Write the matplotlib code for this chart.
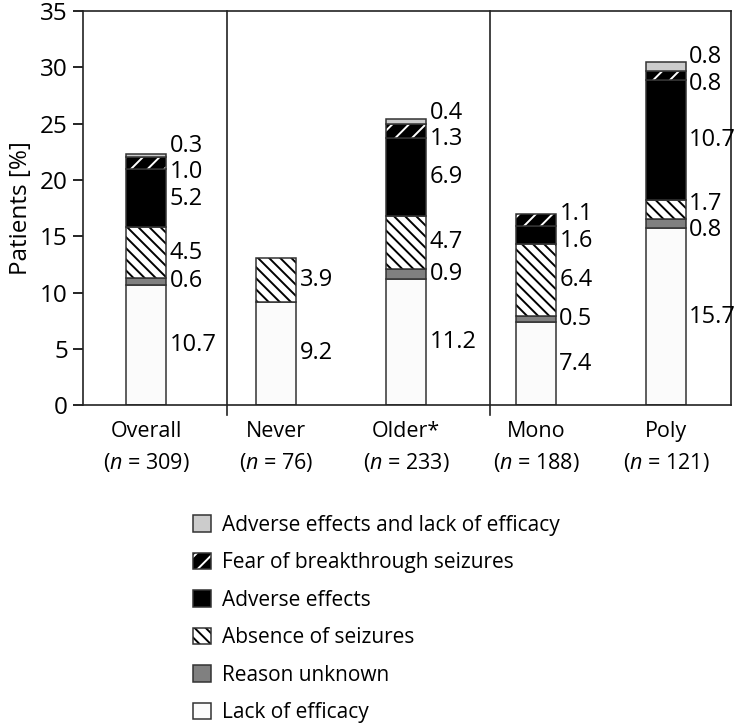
import numpy as np
import matplotlib
matplotlib.use("Agg")
from matplotlib import pyplot as plt
from matplotlib.patches import Patch

plt.rcParams['font.family'] = ['Open Sans', 'DejaVu Sans']
plt.rcParams['mathtext.fontset'] = 'custom'
plt.rcParams['mathtext.rm'] = 'Open Sans'
plt.rcParams['mathtext.it'] = 'Open Sans:italic'
plt.rcParams['hatch.linewidth'] = 1.4

groups = ['Overall', 'Never', 'Older*', 'Mono', 'Poly']
n_vals = [309, 76, 233, 188, 121]

reasons = ['Lack of efficacy', 'Reason unknown', 'Absence of seizures',
           'Adverse effects', 'Fear of breakthrough seizures',
           'Adverse effects and lack of efficacy']

lack_eff = [10.7, 9.2, 11.2, 7.4, 15.7]
unknown = [0.6, 0.0, 0.9, 0.5, 0.8]
absence = [4.5, 3.9, 4.7, 6.4, 1.7]
adverse = [5.2, 0.0, 6.9, 1.6, 10.7]
fear = [1.0, 0.0, 1.3, 1.1, 0.8]
adv_lack = [0.3, 0.0, 0.4, 0.0, 0.8]

series = [lack_eff, unknown, absence, adverse, fear, adv_lack]

# look of each segment: face, hatch colour, hatch
styles = [
    ('#fbfbfb', '#333333', None),
    ('#808080', '#333333', None),
    ('white', 'black', '\\\\\\'),
    ('black', '#333333', None),
    ('black', 'white', '//'),
    ('#cccccc', '#333333', None),
]

x = np.arange(len(groups))
width = 0.31
edge = '#333333'

fig = plt.figure(figsize=(7.36, 7.25), dpi=100)
ax = fig.add_axes([0.113, 0.441, 0.880, 0.544])

data = np.array(series)
bottoms = np.vstack([np.zeros(len(groups)), np.cumsum(data, axis=0)[:-1]])

handles = []
for vals, bot, (face, hc, hatch) in zip(data, bottoms, styles):
    m = vals > 0
    if hatch is not None:
        ax.bar(x[m], vals[m], width, bottom=bot[m], color=face,
               edgecolor=hc, hatch=hatch, linewidth=0)
        ax.bar(x[m], vals[m], width, bottom=bot[m], fill=False,
               edgecolor=edge, linewidth=1.1)
        h = (Patch(facecolor=face, edgecolor=hc, hatch=hatch, linewidth=0),
             Patch(fill=False, edgecolor=edge, linewidth=1.1))
    else:
        ax.bar(x[m], vals[m], width, bottom=bot[m], color=face,
               edgecolor=edge, linewidth=1.1)
        h = Patch(facecolor=face, edgecolor=edge, linewidth=1.1)
    handles.append(h)


def spread(ys, gap):
    ys = list(ys)
    for _ in range(100):
        for i in range(1, len(ys)):
            d = ys[i] - ys[i - 1]
            if d < gap:
                s = (gap - d) / 2
                ys[i - 1] -= s
                ys[i] += s
    return ys


# value labels right of each bar, pushed apart where segments are thin
for j in range(len(groups)):
    vals = data[:, j]
    idx = [i for i in range(len(vals)) if vals[i] > 0]
    centers = [bottoms[i, j] + vals[i] / 2 for i in idx]
    ys = spread(centers, 2.35)
    for i, y in zip(idx, ys):
        ax.text(x[j] + width / 2 + 0.025, y, f'{vals[i]:.1f}',
                ha='left', va='center', fontsize=17)

# group separators
for sx in [0.623, 2.646]:
    ax.plot([sx, sx], [-0.9, 35], color='#222222', lw=1.2, clip_on=False)

ax.set_xlim(-0.485, 4.5)
ax.set_ylim(0, 35)
ax.set_yticks(np.arange(0, 36, 5))
ax.tick_params(axis='y', length=7, width=1.2, labelsize=17.5, pad=4)
ax.set_xticks(x, [f'{g}\n($n$ = {n})' for g, n in zip(groups, n_vals)])
ax.tick_params(axis='x', length=0, labelsize=15.5, pad=11)
for lbl in ax.get_xticklabels():
    lbl.set_linespacing(1.5)
for sp in ax.spines.values():
    sp.set_linewidth(1.2)
    sp.set_color('#222222')
ax.set_ylabel('Patients [%]', fontsize=17.5, labelpad=5)

fig.legend(handles[::-1], reasons[::-1], loc='upper left',
           bbox_to_anchor=(0.262, 0.290), frameon=False, fontsize=15,
           handlelength=0.85, handleheight=0.85, handletextpad=0.55,
           labelspacing=0.79, borderaxespad=0, borderpad=0)

fig.savefig('out.png', dpi=100)
